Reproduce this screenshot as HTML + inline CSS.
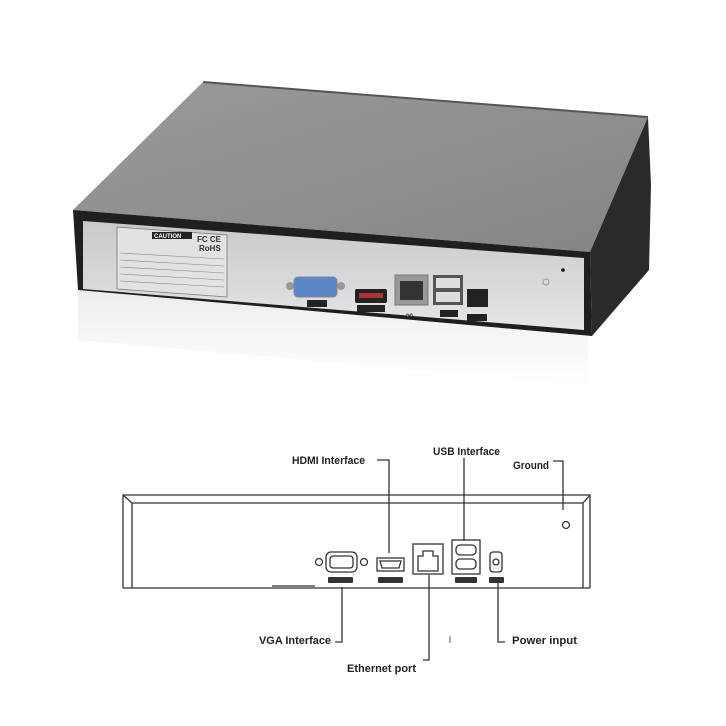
<!DOCTYPE html>
<html><head><meta charset="utf-8"><style>
html,body{margin:0;padding:0;background:#fff}
svg{display:block}
text{font-family:"Liberation Sans",Arial,sans-serif;font-weight:bold;fill:#222}
</style></head><body>
<svg width="726" height="726" viewBox="0 0 726 726" xmlns="http://www.w3.org/2000/svg">
<defs>
<linearGradient id="top" x1="0" y1="0" x2="1" y2="1">
<stop offset="0" stop-color="#9a9a9a"/><stop offset="1" stop-color="#858585"/></linearGradient>
<linearGradient id="panel" x1="0" y1="0" x2="0" y2="1">
<stop offset="0" stop-color="#c9c9cb"/><stop offset="0.6" stop-color="#dadadc"/><stop offset="1" stop-color="#e6e6e8"/></linearGradient>
<linearGradient id="refl" x1="0" y1="0" x2="0" y2="1">
<stop offset="0" stop-color="#e8e8ea"/><stop offset="1" stop-color="#ffffff"/></linearGradient>
</defs>
<polygon points="78,290 588,336 588,385 78,340" fill="url(#refl)" opacity="0.8"/>
<!-- top face -->
<polygon points="203,82 648,117 590,252 73,210" fill="url(#top)"/>
<line x1="203" y1="82" x2="648" y2="117" stroke="#555" stroke-width="2"/>
<!-- right side -->
<polygon points="590,252 648,117 651,185 649,270 592,336" fill="#2a2a2a"/>
<!-- front frame -->
<polygon points="73,210 590,252 592,336 78,290" fill="#1f1f1f"/>
<!-- silver panel -->
<polygon points="83,221 584,258 584,330 83,289" fill="url(#panel)"/>
<!-- caution label -->
<polygon points="117,227 227,235 227,297 117,289" fill="#e2e2e2" stroke="#777" stroke-width="0.8"/>
<rect x="152" y="232" width="40" height="7" fill="#222"/>
<text x="154" y="238" font-size="6" style="fill:#fff">CAUTION</text>
<text x="197" y="242" font-size="8" style="fill:#333">FC CE</text>
<text x="199" y="251" font-size="8" style="fill:#333">RoHS</text>
<g stroke="#888" stroke-width="0.6">
<line x1="120" y1="253" x2="224" y2="259"/><line x1="120" y1="260" x2="224" y2="266"/>
<line x1="120" y1="267" x2="224" y2="273"/><line x1="120" y1="274" x2="224" y2="280"/>
<line x1="120" y1="281" x2="224" y2="287"/></g>
<!-- VGA -->
<circle cx="290" cy="286" r="4" fill="#999"/><circle cx="341" cy="286" r="4" fill="#999"/>
<rect x="294" y="277" width="43" height="20" rx="4" fill="#5b86c8" stroke="#888"/>
<rect x="307" y="300" width="20" height="7" fill="#222"/>
<!-- HDMI -->
<rect x="355" y="289" width="32" height="14" rx="2" fill="#222"/>
<rect x="359" y="293" width="24" height="5" fill="#a33"/>
<rect x="357" y="305" width="28" height="7" fill="#222"/>
<!-- RJ45 -->
<rect x="395" y="275" width="33" height="30" fill="#999" stroke="#777"/>
<rect x="400" y="281" width="23" height="19" fill="#333"/>
<text x="406" y="318" font-size="8" style="fill:#555">⚯</text>
<!-- USB -->
<rect x="433" y="275" width="30" height="30" fill="#555"/>
<rect x="436" y="278" width="24" height="10" fill="#ddd"/><rect x="436" y="292" width="24" height="10" fill="#ddd"/>
<rect x="440" y="310" width="18" height="7" fill="#222"/>
<!-- DC -->
<rect x="467" y="289" width="21" height="18" fill="#222"/>
<rect x="467" y="314" width="20" height="7" fill="#222"/>
<circle cx="563" cy="270" r="1.8" fill="#111"/>
<circle cx="546" cy="282" r="3" fill="none" stroke="#999"/>

<!-- bottom diagram -->
<g fill="none" stroke="#333" stroke-width="1.3">
<path d="M123,588 L123,495 L590,495 L590,588"/>
<path d="M132,588 L132,503 L583,503 L583,588"/>
<line x1="123" y1="495" x2="132" y2="503"/><line x1="590" y1="495" x2="583" y2="503"/>
<line x1="123" y1="588" x2="590" y2="588"/>
<line x1="272" y1="586" x2="315" y2="586"/>
<circle cx="566" cy="525" r="3.5"/>
<circle cx="319" cy="562" r="3.5"/><circle cx="364" cy="562" r="3.5"/>
<rect x="326" y="552" width="31" height="20" rx="5"/>
<rect x="330" y="556" width="23" height="12" rx="3"/>
<rect x="377" y="558" width="27" height="13"/>
<path d="M380,561 L401,561 L399,568 L382,568 Z"/>
<rect x="413" y="544" width="30" height="30"/>
<path d="M418,571 L418,556 L423,556 L423,551 L433,551 L433,556 L438,556 L438,571 Z"/>
<rect x="452" y="540" width="28" height="34"/>
<rect x="456" y="545" width="20" height="10" rx="4"/><rect x="456" y="559" width="20" height="10" rx="4"/>
<rect x="490" y="552" width="12" height="20" rx="3"/>
<circle cx="496" cy="562" r="3"/>
<polyline points="377,460 389,460 389,553"/>
<line x1="464" y1="458" x2="464" y2="541"/>
<polyline points="553,461 563,461 563,510"/>
<polyline points="342,587 342,642 335,642"/>
<polyline points="429,575 429,660 423,660"/>
<polyline points="498,583 498,642 505,642"/>
<line x1="450" y1="636" x2="450" y2="643" stroke-width="0.8"/>
</g>
<g fill="#333">
<rect x="328" y="577" width="25" height="6" rx="1"/>
<rect x="378" y="577" width="25" height="6" rx="1"/>
<rect x="455" y="577" width="22" height="6" rx="1"/>
<rect x="489" y="577" width="15" height="6" rx="1"/>
</g>
<g font-size="11">
<text x="292" y="464" textLength="73" lengthAdjust="spacingAndGlyphs">HDMI Interface</text>
<text x="433" y="455" textLength="67" lengthAdjust="spacingAndGlyphs">USB Interface</text>
<text x="513" y="469" textLength="36" lengthAdjust="spacingAndGlyphs">Ground</text>
<text x="259" y="644" textLength="72" lengthAdjust="spacingAndGlyphs">VGA Interface</text>
<text x="347" y="672" textLength="69" lengthAdjust="spacingAndGlyphs">Ethernet port</text>
<text x="512" y="644" textLength="65" lengthAdjust="spacingAndGlyphs">Power input</text>
</g>
</svg>
</body></html>
